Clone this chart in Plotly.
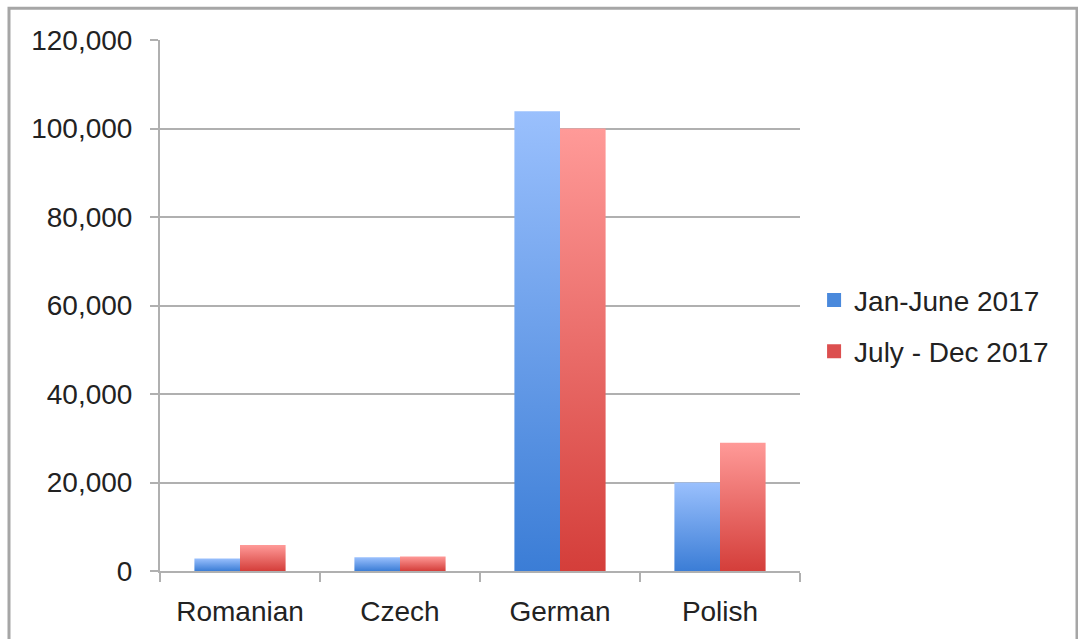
import plotly.graph_objects as go

# Category labels and the two half-year series
categories = ["Romanian", "Czech", "German", "Polish"]
series_names = ["Jan-June 2017", "July - Dec 2017"]
jan_june_2017 = [2850, 3100, 103900, 20000]
july_dec_2017 = [5850, 3300, 100000, 29000]

y_ticks = [0, 20000, 40000, 60000, 80000, 100000, 120000]

# Gradient colours (bottom, top) and legend swatch colour per series
palette = [
    {"bottom": "#3b7dd6", "top": "#9ac0fd", "swatch": "#4a89dc"},
    {"bottom": "#d43e3a", "top": "#ff9a98", "swatch": "#dc4f4f"},
]

FONT = "Liberation Sans, Arial, Helvetica, sans-serif"
BAR_W = 0.285  # width of one bar in category units

fig = go.Figure()

for s, values in enumerate([jan_june_2017, july_dec_2017]):
    col = palette[s]
    for i, v in enumerate(values):
        x0 = i - BAR_W + s * BAR_W
        x1 = x0 + BAR_W
        fig.add_trace(go.Scatter(
            x=[x0, x0, x1, x1, x0],
            y=[0, v, v, 0, 0],
            mode="lines",
            line=dict(width=0),
            fill="toself",
            fillgradient=dict(
                type="vertical",
                colorscale=[[0, col["bottom"]], [1, col["top"]]],
            ),
            showlegend=False,
            hoverinfo="skip",
        ))
    # legend swatch
    fig.add_trace(go.Scatter(
        x=[None], y=[None],
        mode="markers",
        marker=dict(symbol="square", size=14, color=col["swatch"]),
        name=series_names[s],
        legendgroup=series_names[s],
    ))

axis_grey = "#b0b0b0"

fig.update_layout(
    width=1078,
    height=639,
    margin=dict(l=160, r=278, t=40, b=64),
    paper_bgcolor="white",
    plot_bgcolor="white",
    font=dict(family=FONT, size=28, color="#222222"),
    showlegend=True,
    legend=dict(
        x=1.022, y=0.462, xanchor="left", yanchor="middle",
        font=dict(family=FONT, size=28, color="#222222"),
        tracegroupgap=12,
        itemwidth=30,
        bgcolor="rgba(0,0,0,0)",
    ),
    xaxis=dict(
        range=[-0.5, 3.5],
        tickmode="array",
        tickvals=list(range(len(categories))),
        ticktext=categories,
        ticks="",
        showgrid=False,
        zeroline=False,
        showline=True,
        linecolor=axis_grey,
        linewidth=2,
        ticklabelstandoff=14,
        minor=dict(
            tickmode="array",
            tickvals=[i - 0.5 for i in range(len(categories) + 1)],
            ticks="outside",
            ticklen=9,
            tickwidth=2,
            tickcolor=axis_grey,
            showgrid=False,
        ),
        fixedrange=True,
    ),
    yaxis=dict(
        range=[0, 120000],
        tickmode="array",
        tickvals=y_ticks,
        tickformat=",",
        ticks="outside",
        ticklen=8,
        tickwidth=2,
        tickcolor=axis_grey,
        showgrid=True,
        gridcolor=axis_grey,
        gridwidth=2,
        zeroline=False,
        showline=True,
        linecolor=axis_grey,
        linewidth=2,
        ticklabelstandoff=12,
        fixedrange=True,
    ),
)

# Outer frame around the whole chart
fig.add_shape(
    type="rect",
    xref="paper", yref="paper",
    x0=(9 - 160) / 640, x1=(1077 - 160) / 640,
    y0=-0.3, y1=(575 - 8) / 535,
    line=dict(color="#a6a6a6", width=3),
    fillcolor="rgba(0,0,0,0)",
    layer="below",
)

fig.write_html("out.html", config={"displayModeBar": False})
